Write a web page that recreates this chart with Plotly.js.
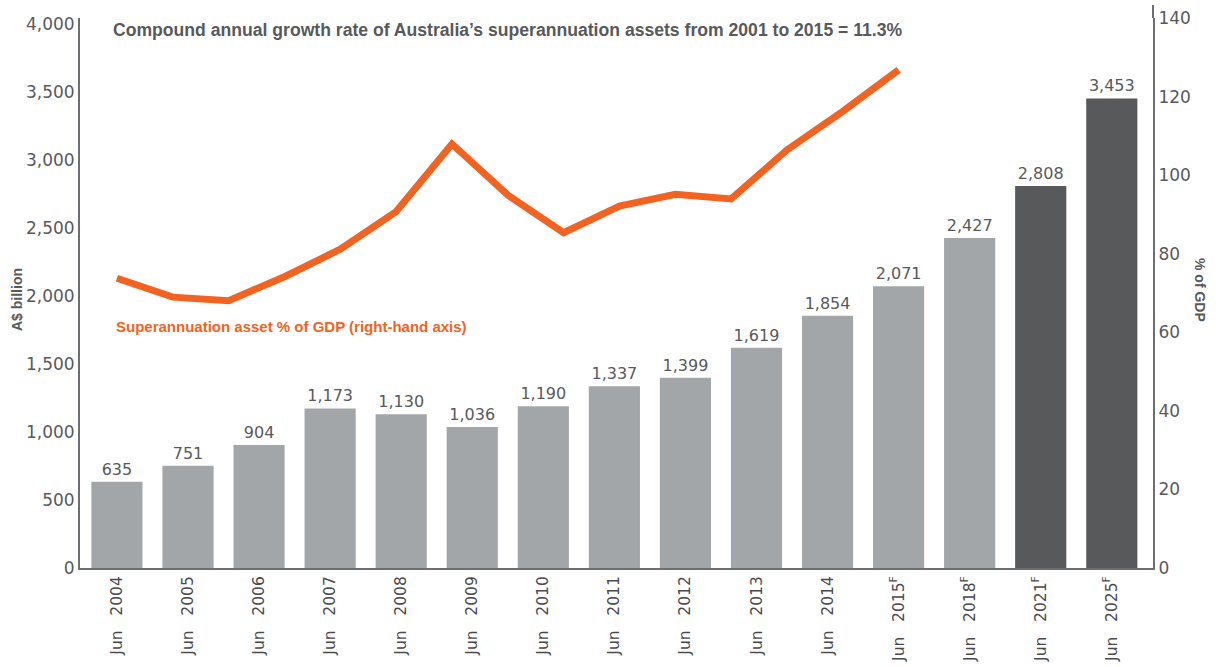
<!DOCTYPE html>
<html>
<head>
<meta charset="utf-8">
<script src="https://cdn.plot.ly/plotly-3.0.1.min.js"></script>
<style>
  html, body { margin: 0; padding: 0; background: #fff; }
  #chart { width: 1216px; height: 667px; }
</style>
</head>
<body>
<div id="chart"></div>
<script>
// ---- Data ----
const SP = '\u00a0\u00a0\u00a0';
const categories = [
  'Jun' + SP + '2004', 'Jun' + SP + '2005', 'Jun' + SP + '2006', 'Jun' + SP + '2007', 'Jun' + SP + '2008',
  'Jun' + SP + '2009', 'Jun' + SP + '2010', 'Jun' + SP + '2011', 'Jun' + SP + '2012', 'Jun' + SP + '2013',
  'Jun' + SP + '2014', 'Jun' + SP + '2015<sup>F</sup>', 'Jun' + SP + '2018<sup>F</sup>',
  'Jun' + SP + '2021<sup>F</sup>', 'Jun' + SP + '2025<sup>F</sup>'
];
const assetsBillion = [635, 751, 904, 1173, 1130, 1036, 1190, 1337, 1399, 1619, 1854, 2071, 2427, 2808, 3453];
const longRangeForecastCount = 2; // last two bars (2021F, 2025F) drawn dark

const gdpYears = [2001, 2002, 2003, 2004, 2005, 2006, 2007, 2008, 2009, 2010, 2011, 2012, 2013, 2014, 2015];
const gdpPct = [73.8, 69.0, 68.1, 74.2, 81.2, 90.8, 108.0, 95.0, 85.4, 92.2, 95.2, 94.0, 106.5, 116.3, 126.9];

const titleText = 'Compound annual growth rate of Australia\u2019s superannuation assets from 2001 to 2015 = 11.3%';
const lineLabel = 'Superannuation asset % of GDP (right-hand axis)';

// ---- Styling / layout ----
const LIGHT = '#a3a6a9';
const DARK = '#58595b';
const ORANGE = '#f26322';
const AXIS = '#6d6e71';
const TICKFONT = '"DejaVu Sans", Verdana, sans-serif';
const BOLDFONT = '"Liberation Sans", Arial, Helvetica, sans-serif';

const barColors = categories.map((c, i) => i >= categories.length - longRangeForecastCount ? DARK : LIGHT);

// category range for bars; the line runs from the first bar (first year) to the 2015F bar (last year)
const catRange = [-0.52, 14.58];
const idxStart = 0, idxEnd = 11;
const slope = (gdpYears[gdpYears.length - 1] - gdpYears[0]) / (idxEnd - idxStart);
const x2Range = [gdpYears[0] + (catRange[0] - idxStart) * slope, gdpYears[0] + (catRange[1] - idxStart) * slope];

const bars = {
  type: 'bar',
  x: categories,
  y: assetsBillion,
  marker: { color: barColors },
  width: 0.72,
  text: assetsBillion.map(v => v.toLocaleString('en-US')),
  textposition: 'outside',
  textfont: { family: TICKFONT, size: 16, color: '#58595b' },
  cliponaxis: false,
  hoverinfo: 'x+y',
  showlegend: false
};

const line = {
  type: 'scatter',
  mode: 'lines',
  x: gdpYears,
  y: gdpPct,
  xaxis: 'x2',
  yaxis: 'y2',
  line: { color: ORANGE, width: 7 },
  showlegend: false
};

const layout = {
  width: 1216,
  height: 667,
  margin: { l: 80, r: 63, t: 18, b: 99 },
  paper_bgcolor: '#ffffff',
  plot_bgcolor: '#ffffff',
  font: { family: TICKFONT, color: '#58595b' },
  title: {
    text: '<b>' + titleText + '</b>',
    font: { family: BOLDFONT, size: 17.6, color: '#58595b' },
    x: 113 / 1216, xanchor: 'left', xref: 'container',
    y: 1 - 30 / 667, yanchor: 'middle', yref: 'container'
  },
  xaxis: {
    type: 'category',
    range: catRange,
    showline: true, linecolor: AXIS, linewidth: 2,
    showgrid: false, zeroline: false,
    ticks: '',
    tickangle: -90,
    tickfont: { family: TICKFONT, size: 15.5, color: '#4a4a4c' }
  },
  xaxis2: {
    overlaying: 'x',
    range: x2Range,
    visible: false
  },
  yaxis: {
    range: [0, 4044],
    tickvals: [0, 500, 1000, 1500, 2000, 2500, 3000, 3500, 4000],
    tickformat: ',',
    showline: true, linecolor: AXIS, linewidth: 2,
    showgrid: false, zeroline: false,
    ticks: '',
    tickfont: { family: TICKFONT, size: 17, color: '#58595b' }
  },
  yaxis2: {
    overlaying: 'y',
    side: 'right',
    range: [0, 140.1],
    tickvals: [0, 20, 40, 60, 80, 100, 120, 140],
    showline: true, linecolor: AXIS, linewidth: 2,
    showgrid: false, zeroline: false,
    ticks: '',
    tickfont: { family: TICKFONT, size: 17, color: '#58595b' }
  },
  shapes: [
    { type: 'line', xref: 'paper', yref: 'paper', x0: 1, x1: 1, y0: 1, y1: 1 + 13 / 550,
      line: { color: AXIS, width: 2 } }
  ],
  annotations: [
    {
      text: '<b>A$ billion</b>', xref: 'paper', yref: 'paper',
      x: (17 - 80) / 1073, y: (568 - 300) / 550, textangle: -90,
      showarrow: false, xanchor: 'center', yanchor: 'middle',
      font: { family: BOLDFONT, size: 14, color: '#58595b' }
    },
    {
      text: '<b>% of GDP</b>', xref: 'paper', yref: 'paper',
      x: (1200 - 80) / 1073, y: (568 - 290) / 550, textangle: 90,
      showarrow: false, xanchor: 'center', yanchor: 'middle',
      font: { family: BOLDFONT, size: 14, color: '#58595b' }
    },
    {
      text: '<b>' + lineLabel + '</b>', xref: 'paper', yref: 'paper',
      x: (114 - 80) / 1073, y: (568 - 326) / 550,
      showarrow: false, xanchor: 'left', yanchor: 'middle',
      font: { family: BOLDFONT, size: 15, color: ORANGE }
    }
  ]
};

Plotly.newPlot('chart', [bars, line], layout, { displayModeBar: false, staticPlot: true });
</script>
</body>
</html>
